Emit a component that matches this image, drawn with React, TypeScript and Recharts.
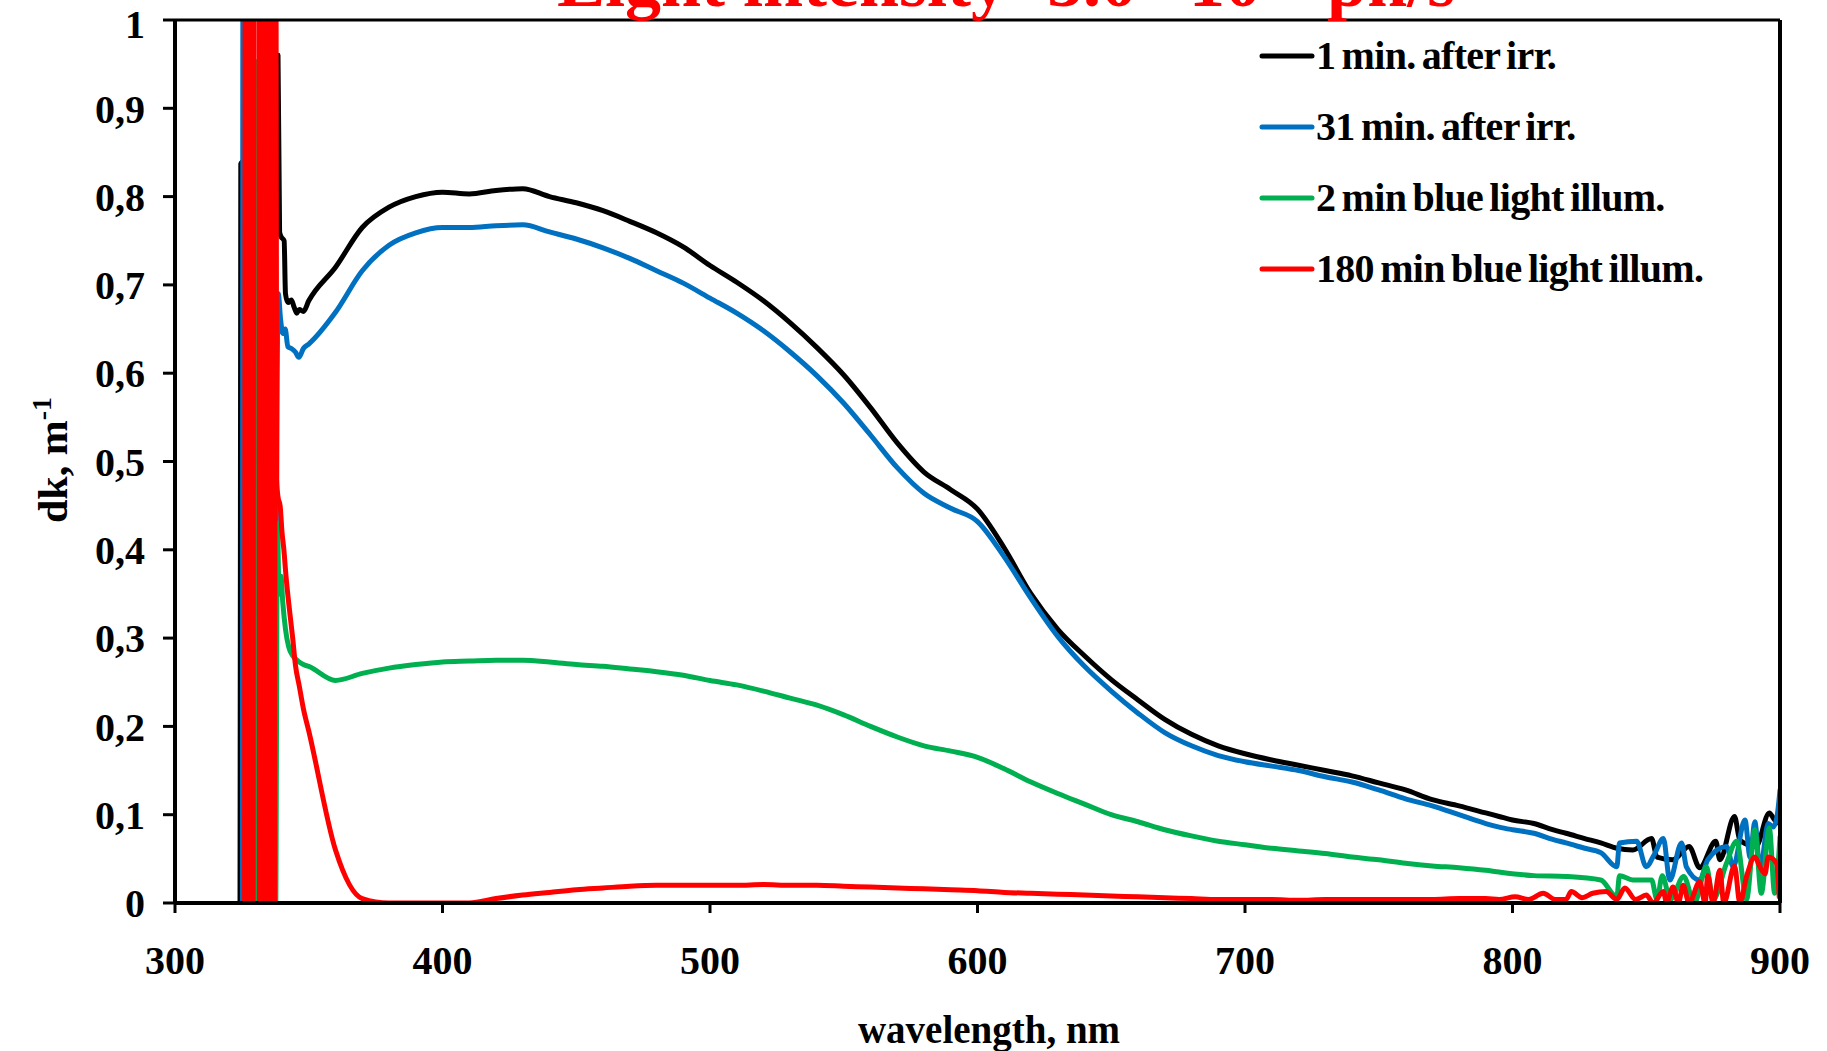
import React from 'react';
import { LineChart, Line, XAxis, YAxis, ReferenceLine, Legend } from 'recharts';

const FONT = '"Liberation Serif", "Times New Roman", serif';

// Shared wavelength grid (nm) for the smooth middle part of every spectrum
const gridNm = [350, 360, 370, 380, 390, 400, 410, 420, 430, 440, 450, 460, 470, 480, 490, 500, 510, 520, 530, 540, 550, 560, 570, 580, 590, 600, 610, 620, 630, 640, 650, 660, 670, 680, 690, 700, 710, 720, 730, 740, 750, 760, 770, 780, 790];

// 1 min. after irr.
const blackHeadNm = [324.3, 324.6, 325.4, 337.9, 338.5, 339.1, 339.6, 340.8, 341.3, 342.2, 343.5, 344.5, 345.5, 346.5, 348];
const blackHead = [-0.02, 0.837, 0.84, 0.9, 0.96, 0.76, 0.755, 0.75, 0.69, 0.68, 0.683, 0.675, 0.668, 0.672, 0.67];
const blackBody = [0.682, 0.72, 0.765, 0.788, 0.8, 0.805, 0.803, 0.807, 0.809, 0.8, 0.793, 0.784, 0.772, 0.759, 0.743, 0.722, 0.703, 0.682, 0.657, 0.629, 0.598, 0.561, 0.521, 0.488, 0.468, 0.446, 0.402, 0.35, 0.31, 0.28, 0.253, 0.23, 0.208, 0.191, 0.178, 0.169, 0.162, 0.156, 0.15, 0.144, 0.136, 0.128, 0.117, 0.11, 0.102];
const blackTailNm = [795, 800, 808, 815, 820, 827, 833, 839, 845, 852, 854, 860, 866, 870, 876, 877.5, 883, 885, 891, 896, 898, 899.7];
const blackTail = [0.098, 0.094, 0.09, 0.083, 0.079, 0.073, 0.068, 0.062, 0.06, 0.073, 0.052, 0.049, 0.064, 0.04, 0.07, 0.049, 0.098, 0.071, 0.064, 0.102, 0.094, 0.09];

// 31 min. after irr.
const blueHeadNm = [325.2, 325.5, 326.5, 329.6, 330.3, 331.0, 334.0, 337.3, 338.6, 339.5, 340.3, 341.2, 342.2, 343.5, 345, 346.3, 348];
const blueHead = [-0.02, 1.4, 0.5, 1.4, 1.4, 1.4, 0.6, 0.236, 0.69, 0.66, 0.645, 0.65, 0.63, 0.628, 0.624, 0.618, 0.628];
const blueBody = [0.633, 0.669, 0.716, 0.745, 0.759, 0.765, 0.765, 0.767, 0.768, 0.76, 0.752, 0.742, 0.73, 0.716, 0.702, 0.685, 0.668, 0.648, 0.624, 0.597, 0.566, 0.53, 0.493, 0.464, 0.447, 0.432, 0.392, 0.345, 0.302, 0.268, 0.24, 0.215, 0.193, 0.178, 0.167, 0.16, 0.155, 0.15, 0.143, 0.137, 0.128, 0.118, 0.11, 0.1, 0.09];
const blueTailNm = [795, 800, 808, 815, 820, 827, 833, 839, 840, 846.4, 850, 853, 856.4, 858.8, 863.2, 865, 870, 873, 880, 882.5, 886.9, 888.8, 890.6, 892.5, 895.6, 897.5, 899, 900];
const blueTail = [0.086, 0.083, 0.079, 0.072, 0.068, 0.062, 0.057, 0.041, 0.068, 0.07, 0.041, 0.055, 0.073, 0.026, 0.068, 0.041, 0.026, 0.049, 0.064, 0.041, 0.094, 0.052, 0.092, 0.037, 0.09, 0.086, 0.1, 0.128];

// 2 min blue light illum.
const greenHeadNm = [329.9, 330.1, 330.3, 337.6, 338.3, 338.9, 339.6, 340.3, 341.3, 342.5, 344, 346, 348];
const greenHead = [-0.02, 0.953, -0.02, -0.02, 0.43, 0.35, 0.37, 0.34, 0.31, 0.29, 0.28, 0.274, 0.27];
const greenBody = [0.268, 0.252, 0.26, 0.266, 0.27, 0.273, 0.274, 0.275, 0.275, 0.273, 0.27, 0.268, 0.265, 0.262, 0.258, 0.252, 0.247, 0.24, 0.232, 0.224, 0.213, 0.2, 0.188, 0.178, 0.172, 0.165, 0.152, 0.137, 0.124, 0.112, 0.1, 0.092, 0.083, 0.076, 0.07, 0.066, 0.062, 0.059, 0.056, 0.052, 0.049, 0.045, 0.042, 0.04, 0.037];
const greenTailNm = [795, 808, 820, 833, 839, 840, 845, 852, 854, 856, 859, 864, 868, 872.5, 875, 880, 883.8, 887.5, 890.6, 893, 896, 898, 900];
const greenTail = [0.035, 0.031, 0.03, 0.026, 0.007, 0.031, 0.026, 0.026, 0.004, 0.031, 0.004, 0.03, 0.0, 0.041, 0.004, 0.045, 0.07, 0.004, 0.083, 0.011, 0.085, 0.011, 0.075];

// 180 min blue light illum.
const redHeadNm = [326.0, 326.4, 326.8, 327.2, 327.6, 328.0, 328.4, 328.8, 329.2, 329.5, 331.2, 331.6, 332.0, 332.4, 332.8, 333.2, 333.6, 334.0, 334.4, 334.8, 335.2, 335.6, 336.0, 336.4, 336.8, 337.2, 337.6, 338.0, 338.5, 339.3, 340.0, 340.7, 341.5, 342.5, 344, 345, 346.5, 348];
const redHead = [-0.05, 1.5, -0.05, 1.5, -0.05, 1.5, -0.05, 1.5, -0.05, 1.5, 1.5, -0.05, 1.5, -0.05, 1.5, -0.05, 1.5, -0.05, 1.5, -0.05, 1.5, -0.05, 1.5, -0.05, 1.5, -0.05, 1.5, 0.48, 0.46, 0.45, 0.42, 0.4, 0.37, 0.34, 0.3, 0.27, 0.245, 0.22];
const redBody = [0.195, 0.06, 0.005, 0, 0, 0, 0, 0.005, 0.009, 0.012, 0.015, 0.017, 0.019, 0.02, 0.02, 0.02, 0.02, 0.021, 0.02, 0.02, 0.019, 0.018, 0.017, 0.016, 0.015, 0.014, 0.012, 0.011, 0.01, 0.009, 0.008, 0.007, 0.006, 0.005, 0.004, 0.004, 0.004, 0.003, 0.004, 0.004, 0.004, 0.004, 0.004, 0.005, 0.005];
const redTailNm = [795, 801, 806, 811.5, 816, 820, 822, 826, 830, 835, 839, 842, 846, 850, 852.6, 856.4, 857.6, 860, 862, 863.8, 866, 870, 872, 873, 875, 877.5, 879, 883, 885, 887.5, 890.6, 892.5, 894.4, 895.6, 898.7, 899.7];
const redTail = [0.004, 0.007, 0.004, 0.011, 0.004, 0.004, 0.013, 0.006, 0.011, 0.013, 0.004, 0.017, 0.004, 0.009, 0.0, 0.013, 0.0, 0.018, 0.0, 0.02, 0.0, 0.024, 0.0, 0.031, 0.0, 0.037, 0.0, 0.042, 0.0, 0.03, 0.052, 0.041, 0.033, 0.052, 0.045, 0.007];

const xTicks = [300, 400, 500, 600, 700, 800, 900];
const yTicks = [0, 0.1, 0.2, 0.3, 0.4, 0.5, 0.6, 0.7, 0.8, 0.9, 1];

const seriesNames = ['1 min. after irr.', '31 min. after irr.', '2 min blue light illum.', '180 min blue light illum.'];
const seriesColors = ['#000000', '#0070C0', '#00B050', '#FF0000'];

type Pt = { nm: number; v: number };

function joinSegments(...parts: [number[], number[]][]): Pt[] {
  const out: Pt[] = [];
  parts.forEach(([xs, ys]) => xs.forEach((nm, i) => out.push({ nm, v: ys[i] })));
  return out;
}

const seriesData: Pt[][] = [
  joinSegments([blackHeadNm, blackHead], [gridNm, blackBody], [blackTailNm, blackTail]),
  joinSegments([blueHeadNm, blueHead], [gridNm, blueBody], [blueTailNm, blueTail]),
  joinSegments([greenHeadNm, greenHead], [gridNm, greenBody], [greenTailNm, greenTail]),
  joinSegments([redHeadNm, redHead], [gridNm, redBody], [redTailNm, redTail]),
];

const formatY = (v: number) => (v === 0 ? '0' : v === 1 ? '1' : v.toFixed(1).replace('.', ','));

const tickStyle = { fill: '#000', fontSize: 40, fontWeight: 'bold' as const, fontFamily: FONT };

function LegendBox(props: any) {
  const payload = [...(props.payload || [])].sort(
    (a: any, b: any) => seriesNames.indexOf(a.value) - seriesNames.indexOf(b.value)
  );
  return (
    <div style={{ fontFamily: FONT, fontWeight: 'bold', fontSize: 40, color: '#000' }}>
      {payload.map((item: any) => (
        <div key={item.value} style={{ display: 'flex', alignItems: 'center', height: 71, whiteSpace: 'nowrap' }}>
          <svg width={56} height={10} style={{ display: 'block' }}>
            <line x1={3} y1={5} x2={53} y2={5} stroke={item.color} strokeWidth={5} strokeLinecap="round" />
          </svg>
          <span style={{ marginLeft: 1, letterSpacing: -0.7, wordSpacing: -3 }}>{item.value}</span>
        </div>
      ))}
    </div>
  );
}

export default function App() {
  return (
    <div style={{ position: 'absolute', left: 0, top: 0, width: 1827, height: 1051, background: '#fff', overflow: 'hidden' }}>
      <LineChart width={1827} height={1051} margin={{ top: 20, right: 47, bottom: 88, left: 75 }}>
        <XAxis
          dataKey="nm"
          type="number"
          domain={[300, 900]}
          ticks={xTicks}
          allowDataOverflow
          height={60}
          tick={tickStyle}
          tickSize={10}
          tickMargin={33}
          axisLine={{ stroke: '#000', strokeWidth: 4 }}
          tickLine={{ stroke: '#000', strokeWidth: 3 }}
        />
        <YAxis
          type="number"
          domain={[0, 1]}
          ticks={yTicks}
          allowDataOverflow
          width={100}
          tick={tickStyle}
          tickFormatter={formatY}
          tickSize={12}
          tickMargin={18}
          axisLine={{ stroke: '#000', strokeWidth: 4 }}
          tickLine={{ stroke: '#000', strokeWidth: 3 }}
        />
        {seriesData.map((data, i) => (
          <Line
            key={seriesNames[i]}
            data={data}
            dataKey="v"
            name={seriesNames[i]}
            type="monotone"
            stroke={seriesColors[i]}
            strokeWidth={5}
            strokeLinejoin="round"
            strokeLinecap="round"
            dot={false}
            activeDot={false}
            isAnimationActive={false}
          />
        ))}
        <ReferenceLine y={1} stroke="#000" strokeWidth={3} />
        <ReferenceLine x={900} stroke="#000" strokeWidth={4} />
        <Legend
          layout="vertical"
          align="center"
          verticalAlign="middle"
          content={<LegendBox />}
          wrapperStyle={{ left: 1259, top: 20, width: 560, height: 290 }}
        />
      </LineChart>
      <svg width={1827} height={1051} style={{ position: 'absolute', left: 0, top: 0, pointerEvents: 'none' }}>
        <text x={557} y={6} fill="#FF0000" fontSize={72} fontWeight="bold" fontFamily={FONT}>
          Light intensity
          <tspan dx={40}>5.0</tspan>
          <tspan dx={14}>·</tspan>
          <tspan dx={14}>10</tspan>
          <tspan dy={-28} fontSize={46}>16</tspan>
          <tspan dy={28} dx={20}>ph/s</tspan>
        </text>
        <text
          transform="translate(67, 460) rotate(-90)"
          textAnchor="middle"
          fill="#000"
          fontSize={42}
          fontWeight="bold"
          fontFamily={FONT}
        >
          dk, m<tspan dy={-16} fontSize={28}>-1</tspan>
        </text>
        <text x={989} y={1043} textAnchor="middle" fill="#000" fontSize={39} fontWeight="bold" fontFamily={FONT}>
          wavelength, nm
        </text>
      </svg>
    </div>
  );
}
